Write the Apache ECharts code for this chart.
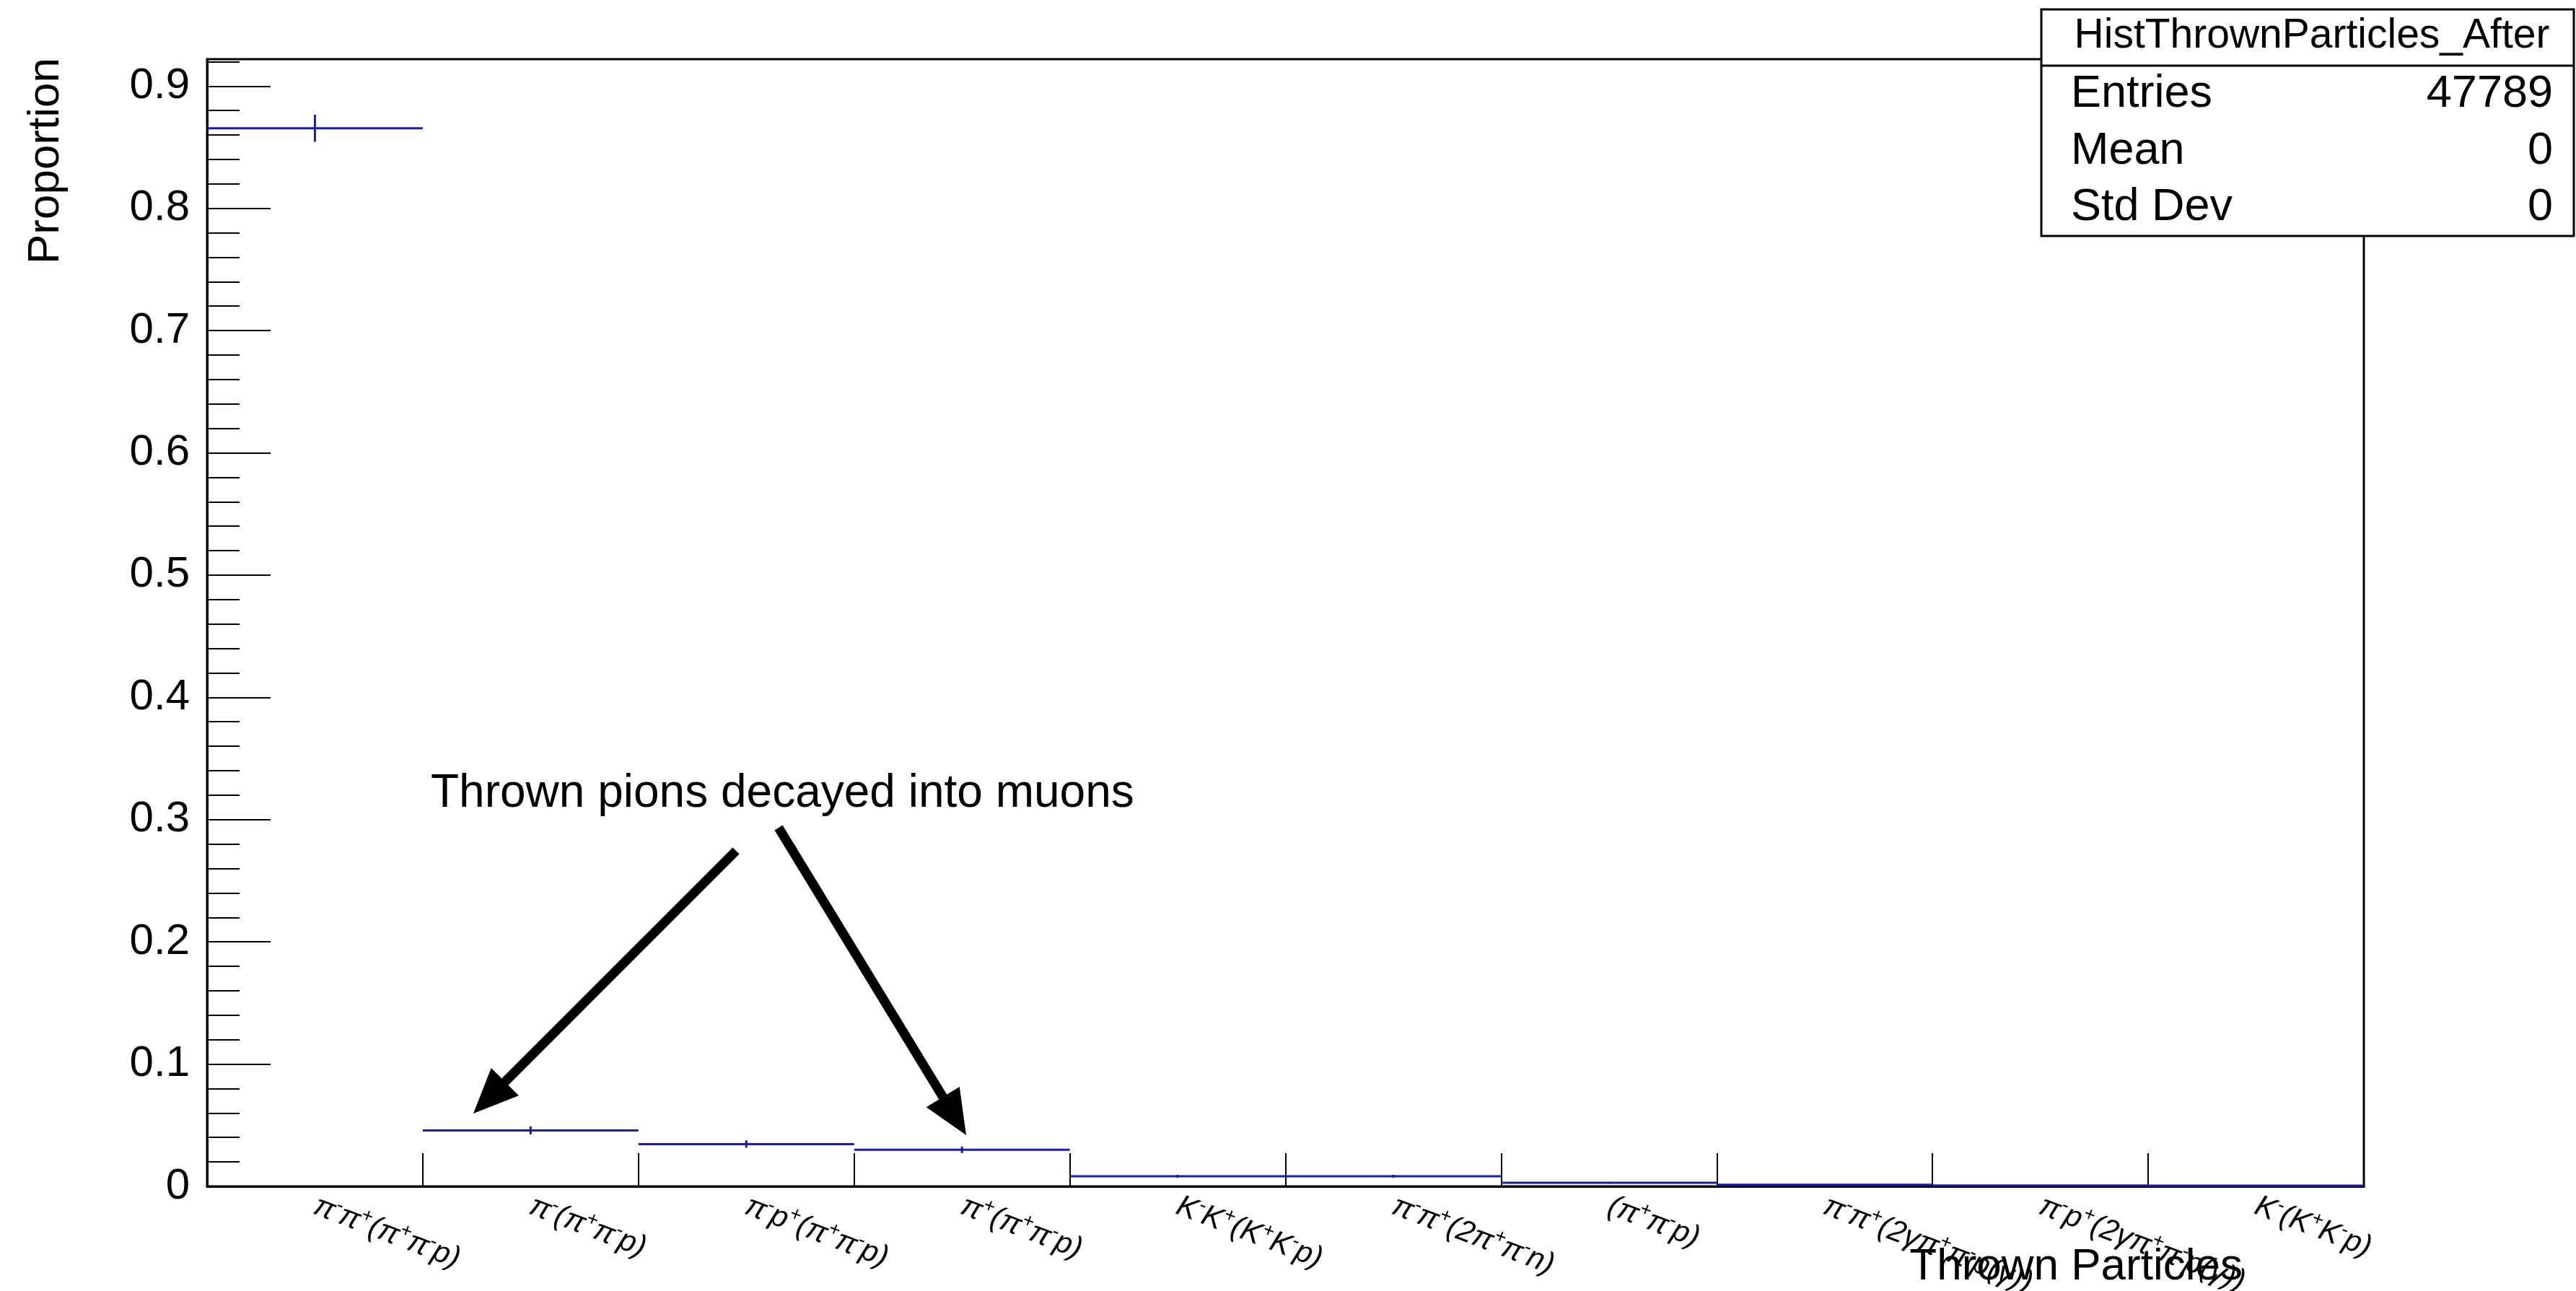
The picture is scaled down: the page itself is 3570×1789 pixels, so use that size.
<!DOCTYPE html>
<html>
<head>
<meta charset="utf-8">
<script src="https://cdn.jsdelivr.net/npm/echarts@6/dist/echarts.min.js"></script>
<style>
html,body{margin:0;padding:0;background:#fff;}
#c{width:3570px;height:1789px;}
</style>
</head>
<body>
<div id="c"></div>
<script>
// ---- data ----
var categories = [
  'π^-π^+(π^+π^-p)',
  'π^-(π^+π^-p)',
  'π^-p^+(π^+π^-p)',
  'π^+(π^+π^-p)',
  'K^-K^+(K^+K^-p)',
  'π^-π^+(2π^+π^-n)',
  '(π^+π^-p)',
  'π^-π^+(2γπ^+π^-p(γ))',
  'π^-p^+(2γπ^+π^-p(γ))',
  'K^-(K^+K^-p)'
];
var proportions = [0.8655, 0.0458, 0.0346, 0.0299, 0.0083, 0.0082, 0.0029, 0.0014, 0.0008, 0.0006];
var errors      = [0.011, 0.0033, 0.003, 0.0027, 0.0012, 0.0012, 0.0008, 0.0005, 0.0004, 0.0003];
var yMajorTicks = [0, 0.1, 0.2, 0.3, 0.4, 0.5, 0.6, 0.7, 0.8, 0.9];
var statsTitle = 'HistThrownParticles_After';
var statsNames = ['Entries', 'Mean', 'Std Dev'];
var statsValues = ['47789', '0', '0'];

var BLUE = '#1c1caa';
var FONT = 'Liberation Sans, Arial, Helvetica, sans-serif';

function toRich(s) {
  var out = '', i = 0, buf = '';
  while (i < s.length) {
    if (s[i] === '^') {
      if (buf) { out += '{n|' + buf + '}'; buf = ''; }
      out += '{s|' + s[i + 1] + '}';
      i += 2;
    } else { buf += s[i]; i++; }
  }
  if (buf) out += '{n|' + buf + '}';
  return out;
}

function arrow(tx, ty, hx, hy) {
  var dx = hx - tx, dy = hy - ty, L = Math.hypot(dx, dy), ux = dx / L, uy = dy / L;
  var hl = 62, hw = 27;
  var bx = hx - ux * hl, by = hy - uy * hl;
  return [
    {type: 'line', z: 100, shape: {x1: tx, y1: ty, x2: bx + ux * 6, y2: by + uy * 6},
      style: {stroke: '#000', lineWidth: 13}},
    {type: 'polygon', z: 100, shape: {points: [[hx, hy], [bx - uy * hw, by + ux * hw], [bx + uy * hw, by - ux * hw]]},
      style: {fill: '#000'}}
  ];
}

var chart = echarts.init(document.getElementById('c'), null, {renderer: 'canvas'});

var seriesData = proportions.map(function (v, i) { return [i, v, errors[i]]; });

var graphics = [];
// y title
graphics.push({type: 'text', x: 64, y: 80, rotation: Math.PI / 2, z: 100,
  style: {text: 'Proportion', font: '62px ' + FONT, fill: '#000',
    align: 'right', verticalAlign: 'middle', textAlign: 'right', textVerticalAlign: 'middle'}});
// x title
graphics.push({type: 'text', x: 3108, y: 1756, z: 100,
  style: {text: 'Thrown Particles', font: '62px ' + FONT, fill: '#000',
    align: 'right', verticalAlign: 'middle', textAlign: 'right', textVerticalAlign: 'middle'}});
// annotation
graphics.push({type: 'text', x: 597, y: 1100, z: 100,
  style: {text: 'Thrown pions decayed into muons', font: '64px ' + FONT, fill: '#000',
    align: 'left', verticalAlign: 'middle', textAlign: 'left', textVerticalAlign: 'middle'}});
graphics = graphics.concat(arrow(1020, 1179, 656, 1543));
graphics = graphics.concat(arrow(1079, 1147, 1339, 1573));
// stats box
graphics.push({type: 'rect', z: 100, shape: {x: 2829, y: 13, width: 738, height: 314},
  style: {fill: '#fff', stroke: '#000', lineWidth: 3}});
graphics.push({type: 'line', z: 101, shape: {x1: 2829, y1: 91, x2: 3567, y2: 91},
  style: {stroke: '#000', lineWidth: 3}});
graphics.push({type: 'text', x: 3204, y: 50, z: 102,
  style: {text: statsTitle, font: '57px ' + FONT, fill: '#000',
    align: 'center', verticalAlign: 'middle', textAlign: 'center', textVerticalAlign: 'middle'}});
var rowY = [131, 210, 288];
statsNames.forEach(function (n, i) {
  graphics.push({type: 'text', x: 2870, y: rowY[i], z: 102,
    style: {text: n, font: '63px ' + FONT, fill: '#000',
      align: 'left', verticalAlign: 'middle', textAlign: 'left', textVerticalAlign: 'middle'}});
  graphics.push({type: 'text', x: 3538, y: rowY[i], z: 102,
    style: {text: statsValues[i], font: '63px ' + FONT, fill: '#000',
      align: 'right', verticalAlign: 'middle', textAlign: 'right', textVerticalAlign: 'middle'}});
});

var option = {
  backgroundColor: '#fff',
  animation: false,
  grid: {left: 287, right: 294, top: 82, bottom: 145, show: true, borderColor: '#000', borderWidth: 3,
    backgroundColor: 'transparent', outerBoundsMode: 'none', containLabel: false},
  xAxis: {
    type: 'category', data: categories, boundaryGap: true,
    axisLine: {show: true, lineStyle: {color: '#000', width: 3}},
    axisTick: {show: true, inside: true, length: 46, interval: 0, lineStyle: {color: '#000', width: 2}},
    axisLabel: {
      interval: 0, rotate: -21, margin: 26, color: '#000',
      formatter: function (v) { return toRich(v); },
      rich: {
        n: {fontSize: 42, fontStyle: 'italic', fontFamily: FONT, color: '#000', lineHeight: 50},
        s: {fontSize: 27, fontStyle: 'italic', fontFamily: FONT, color: '#000', lineHeight: 28, verticalAlign: 'top'}
      }
    },
    splitLine: {show: false}
  },
  yAxis: [
    {
      type: 'value', position: 'left', min: 0, max: 0.922, interval: 0.1,
      axisLine: {show: true, lineStyle: {color: '#000', width: 3}},
      axisTick: {show: true, inside: true, length: 88, lineStyle: {color: '#000', width: 2}},
      axisLabel: {
        show: true, margin: 24, color: '#000', fontSize: 60, fontFamily: FONT, showMaxLabel: false,
        formatter: function (v) {
          var r = Math.round(v * 10) / 10;
          if (Math.abs(r - v) > 1e-6 || yMajorTicks.indexOf(r) < 0) return '';
          return r === 0 ? '0' : r.toFixed(1);
        }
      },
      splitLine: {show: false}
    },
    {
      type: 'value', position: 'left', offset: 0, min: 0, max: 0.922, interval: 0.02,
      axisLine: {show: false},
      axisTick: {show: true, inside: true, length: 45, lineStyle: {color: '#000', width: 2}},
      axisLabel: {show: false},
      splitLine: {show: false}
    }
  ],
  series: [{
    type: 'custom',
    yAxisIndex: 0,
    data: seriesData,
    encode: {x: 0, y: 1},
    clip: false,
    renderItem: function (params, api) {
      var i = api.value(0), v = api.value(1), e = api.value(2);
      var c = api.coord([i, v]);
      var w = api.size([1, 0])[0];
      var top = api.coord([i, v + e])[1];
      var bot = api.coord([i, Math.max(v - e, 0)])[1];
      return {
        type: 'group',
        children: [
          {type: 'line', shape: {x1: c[0] - w / 2, y1: c[1], x2: c[0] + w / 2, y2: c[1]},
            style: {stroke: BLUE, lineWidth: 3}},
          {type: 'line', shape: {x1: c[0], y1: top, x2: c[0], y2: bot},
            style: {stroke: BLUE, lineWidth: 3}}
        ]
      };
    }
  }],
  graphic: {elements: graphics}
};
chart.setOption(option);
</script>
</body>
</html>
